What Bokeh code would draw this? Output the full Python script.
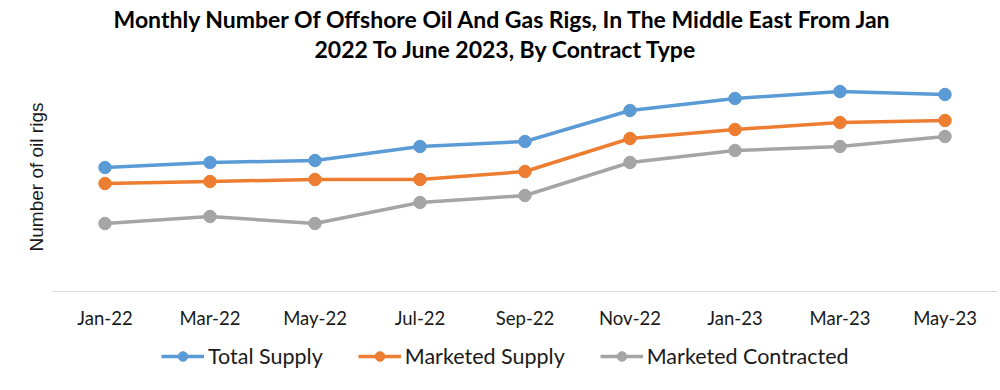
from bokeh.plotting import figure
from bokeh.layouts import column
from bokeh.models import FactorRange, Range1d, Title, Legend, LegendItem, ColumnDataSource, FixedTicker
from bokeh.embed import file_html
from bokeh.resources import INLINE

months = ["Jan-22", "Mar-22", "May-22", "Jul-22", "Sep-22", "Nov-22", "Jan-23", "Mar-23", "May-23"]
total_supply = [124, 129, 131, 145, 150, 181, 193, 200, 197]
marketed_supply = [108, 110, 112, 112, 120, 153, 162, 169, 171]
marketed_contracted = [68, 75, 68, 89, 96, 129, 141, 145, 155]

series = [
    ("Total Supply", total_supply, "#5B9BD5"),
    ("Marketed Supply", marketed_supply, "#ED7D31"),
    ("Marketed Contracted", marketed_contracted, "#A5A5A5"),
]

FONT = "Lato"
TXT = "#1a1a1a"
NAN = float("nan")

p = figure(width=1000, height=340, x_range=FactorRange(*months), y_range=Range1d(0, 229),
           output_backend="svg", toolbar_location=None,
           min_border_left=52, min_border_right=3, min_border_top=62, min_border_bottom=49)
p.outline_line_color = None
p.xgrid.grid_line_color = None
p.ygrid.grid_line_color = None

for name, vals, col in series:
    src = ColumnDataSource(dict(x=months, y=vals))
    p.line("x", "y", source=src, line_color=col, line_width=3.5)
    p.scatter("x", "y", source=src, size=12.5, fill_color=col, line_color=col)

# axes
xa = p.xaxis[0]
xa.axis_line_color = "#d9d9d9"
xa.axis_line_width = 1
xa.major_tick_line_color = None
xa.minor_tick_line_color = None
xa.major_tick_out = 0
xa.major_label_text_font = FONT
xa.major_label_text_font_size = "18.5px"
xa.major_label_text_color = TXT
xa.major_label_standoff = 15

ya = p.yaxis[0]
ya.ticker = FixedTicker(ticks=[])
ya.axis_line_color = None
ya.major_tick_line_color = None
ya.minor_tick_line_color = None
ya.major_tick_out = 0
ya.major_label_standoff = 0
ya.axis_label = "Number of oil rigs"
ya.axis_label_text_font = "Liberation Sans"
ya.axis_label_text_font_size = "19px"
ya.axis_label_text_font_style = "normal"
ya.axis_label_text_color = TXT
ya.axis_label_standoff = 6

t2 = Title(text="2022 To June 2023, By Contract Type", align="left", standoff=0, offset=262,
           text_font=FONT, text_font_size="23px", text_font_style="bold", text_color="#000000")
t1 = Title(text="Monthly Number Of Offshore Oil And Gas Rigs, In The Middle East From Jan", align="left",
           standoff=0, offset=61, text_font=FONT, text_font_size="23px", text_font_style="bold",
           text_color="#000000")
p.add_layout(t2, "above")
p.add_layout(t1, "above")

# legend strip below the chart
lg = figure(width=1000, height=50, x_range=Range1d(0, 1), y_range=Range1d(0, 1),
            output_backend="svg", toolbar_location=None, x_axis_type=None, y_axis_type=None,
            min_border_left=0, min_border_right=0, min_border_top=0, min_border_bottom=0)
lg.outline_line_color = None
lg.xgrid.grid_line_color = None
lg.ygrid.grid_line_color = None
items = []
for name, vals, col in series:
    r1 = lg.line(x=[NAN], y=[NAN], line_color=col, line_width=3.5)
    r2 = lg.scatter(x=[NAN], y=[NAN], size=12.5, fill_color=col, line_color=col)
    items.append(LegendItem(label=name, renderers=[r1, r2]))
legend = Legend(items=items, orientation="horizontal", location=(109, 21),
                label_text_font=FONT, label_text_font_size="21.5px", label_text_color=TXT,
                glyph_width=43, glyph_height=24, label_standoff=4, spacing=35, padding=0, margin=0,
                border_line_color=None, background_fill_alpha=0)
lg.add_layout(legend, "center")

layout = column(p, lg, spacing=0)
open("out.html", "w").write(file_html(layout, INLINE))
